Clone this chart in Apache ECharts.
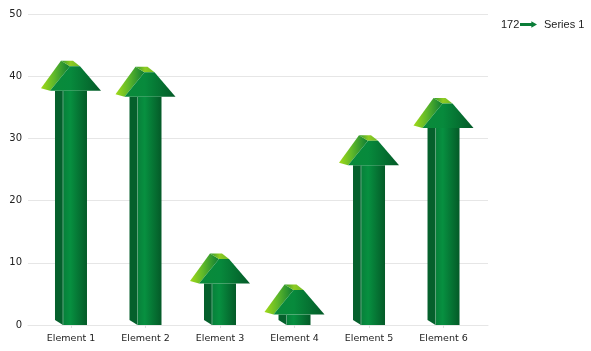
<!DOCTYPE html>
<html>
<head>
<meta charset="utf-8">
<style>
  html, body { margin: 0; padding: 0; background: #fff; }
  #chart { width: 591px; height: 351px; }
</style>
<script src="https://cdn.jsdelivr.net/npm/echarts@6/dist/echarts.min.js"></script>
</head>
<body>
<div id="chart"></div>
<script>
var categories = ['Element 1', 'Element 2', 'Element 3', 'Element 4', 'Element 5', 'Element 6']
var values = [42.5, 41.5, 11.5, 6.5, 30.5, 36.5]
var positions = [0, 1, 2, 3, 4, 5]

function hGrad (stops) {
  return new echarts.graphic.LinearGradient(0, 0, 1, 0, stops.map(function (c) {
    return { offset: c[0], color: c[1] }
  }))
}

function renderArrow (params, api) {
  var top = api.coord([api.value(0), api.value(1)])
  var base = api.coord([api.value(0), 0])
  var x = top[0]
  var y = top[1]
  var y0 = base[1]
  var poly = function (pts, fill) {
    return {
      type: 'polygon',
      shape: { points: pts.map(function (p) { return [x + p[0], p[1]] }) },
      style: { fill: fill }
    }
  }
  var shaftTop = y + 30
  return {
    type: 'group',
    children: [
      // side of the shaft
      poly([[-16, shaftTop], [-8, shaftTop], [-8, y0], [-16, y0 - 5]], '#05602c'),
      // front of the shaft
      poly([[-8, shaftTop], [16, shaftTop], [16, y0], [-8, y0]], hGrad([
        [0, '#07803a'], [0.3, '#079040'], [1, '#045a28']
      ])),
      poly([[-8.5, shaftTop], [-7.5, shaftTop], [-7.5, y0], [-8.5, y0 - 0.5]], '#5fa37c'),
      // left face of the head
      poly([[-30, y + 27.5], [-10, y], [-1, y + 5.5], [-21, y + 30]], hGrad([
        [0, '#a2da18'], [0.45, '#5fb82a'], [1, '#0d7d33']
      ])),
      // top face of the head
      poly([[-10, y], [2, y], [9, y + 5.5], [-1, y + 5.5]], hGrad([
        [0, '#2f9a2e'], [0.5, '#8fcb22'], [1, '#6dbb26']
      ])),
      // front of the head
      poly([[-21, y + 30], [-1, y + 5.5], [9, y + 5.5], [30, y + 30]], hGrad([
        [0, '#0a8a3a'], [0.4, '#078a3c'], [1, '#045a28']
      ]))
    ]
  }
}

var chart = echarts.init(document.getElementById('chart'))
chart.setOption({
  animation: false,
  textStyle: { fontFamily: 'DejaVu Sans' },
  grid: { left: 28, right: 103, top: 14, bottom: 26 },
  legend: {
    left: 515,
    top: 14,
    itemWidth: 17,
    itemHeight: 7,
    itemGap: 0,
    textStyle: { fontFamily: 'Liberation Sans', fontSize: 11, color: '#222', padding: [0, 0, 0, 2] },
    data: [{
      name: 'Series 1',
      icon: 'path://M0 2 L12 2 L12 0 L18 3.5 L12 7 L12 5 L0 5 Z',
      itemStyle: { color: '#0a7d38' }
    }]
  },
  graphic: [{
    type: 'text',
    left: 501,
    top: 19,
    style: { text: '172', fontFamily: 'Liberation Sans', fontSize: 11, fill: '#222' }
  }],
  xAxis: {
    type: 'value',
    min: -0.577,
    max: 5.597,
    splitLine: { show: false },
    axisLine: { show: true, onZero: false, lineStyle: { color: '#e6e6e6' } },
    axisTick: { show: true, length: 3, customValues: positions, lineStyle: { color: '#e0e0e0' } },
    axisLabel: {
      customValues: positions,
      margin: 9,
      fontSize: 9.5,
      color: '#222',
      formatter: function (v) { return categories[v] }
    }
  },
  yAxis: {
    type: 'value',
    min: 0,
    max: 50,
    interval: 10,
    axisLine: { show: false },
    axisTick: { show: false },
    splitLine: { lineStyle: { color: '#e6e6e6' } },
    axisLabel: { margin: 6, fontSize: 10, color: '#222' }
  },
  series: [{
    name: 'Series 1',
    type: 'custom',
    renderItem: renderArrow,
    itemStyle: { color: '#07803a' },
    encode: { x: 0, y: 1 },
    data: positions.map(function (p, i) { return [p, values[i]] })
  }]
})
</script>
</body>
</html>
